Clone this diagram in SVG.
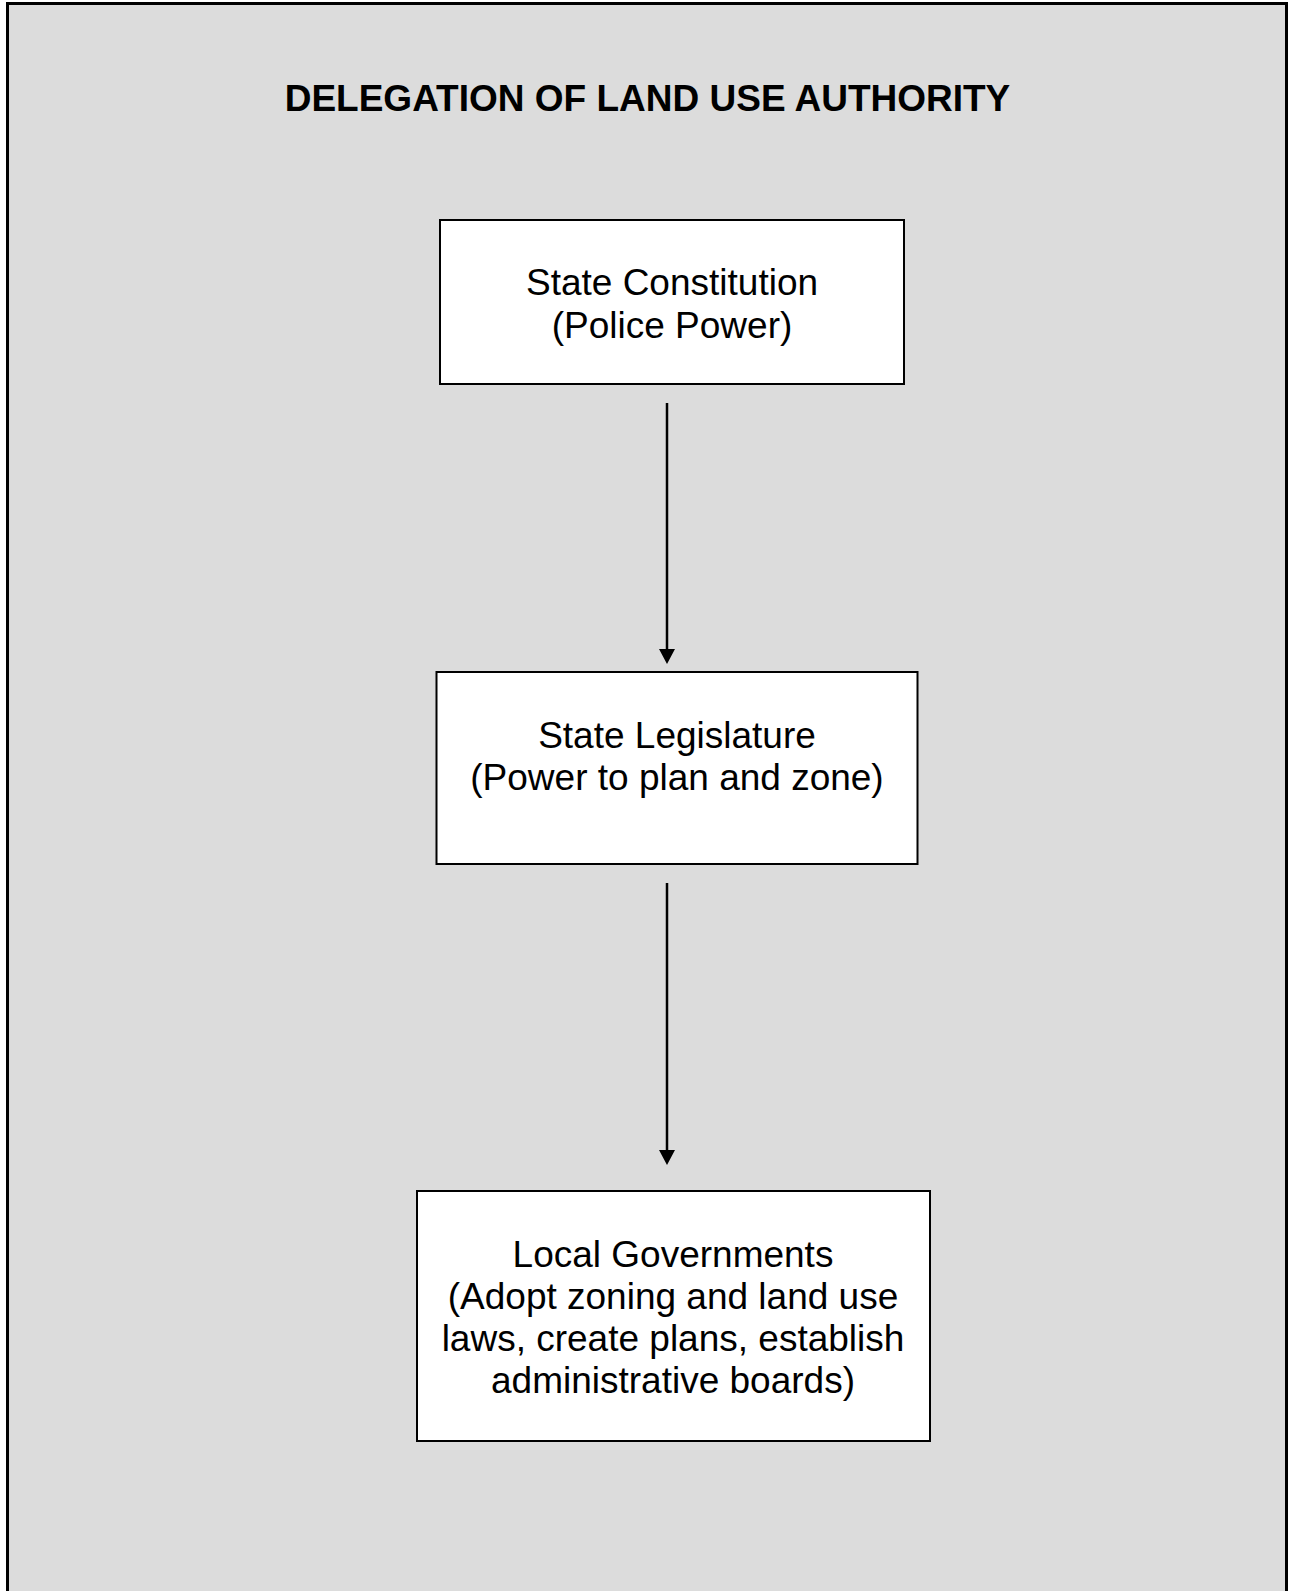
<svg xmlns="http://www.w3.org/2000/svg" width="1294" height="1591" viewBox="0 0 1294 1591">
<style>
.box{fill:#ffffff;stroke:#000000;stroke-width:2}
.lbl{font-family:"Liberation Sans",Arial,sans-serif;font-size:37px;fill:#000000;text-anchor:middle}
.title{font-family:"Liberation Sans",Arial,sans-serif;font-size:37px;font-weight:bold;fill:#000000;text-anchor:middle}
.conn{stroke:#000000;stroke-width:2.5;fill:none}
</style>
<rect x="0" y="0" width="1294" height="1591" fill="#ffffff"/>
<rect id="frame" x="7.5" y="3.5" width="1279" height="1600" fill="#dcdcdc" stroke="#000000" stroke-width="3"/>
<text class="title" x="647.5" y="110.5">DELEGATION OF LAND USE AUTHORITY</text>
<g id="connectors">
<line class="conn" x1="667" y1="403" x2="667" y2="650"/>
<path d="M659,649 L675,649 L667,664 Z" fill="#000000"/>
<line class="conn" x1="667" y1="883" x2="667" y2="1151"/>
<path d="M659,1150 L675,1150 L667,1165 Z" fill="#000000"/>
</g>
<g id="node-constitution">
<rect class="box" x="440" y="220" width="464" height="164"/>
<text class="lbl" x="672" y="295">State Constitution</text>
<text class="lbl" x="672" y="338">(Police Power)</text>
</g>
<g id="node-legislature">
<rect class="box" x="436.5" y="672" width="481" height="192"/>
<text class="lbl" x="677" y="748">State Legislature</text>
<text class="lbl" x="677" y="790">(Power to plan and zone)</text>
</g>
<g id="node-local">
<rect class="box" x="417" y="1191" width="513" height="250"/>
<text class="lbl" x="673" y="1267">Local Governments</text>
<text class="lbl" x="673" y="1309">(Adopt zoning and land use</text>
<text class="lbl" x="673" y="1351">laws, create plans, establish</text>
<text class="lbl" x="673" y="1393">administrative boards)</text>
</g>
</svg>
